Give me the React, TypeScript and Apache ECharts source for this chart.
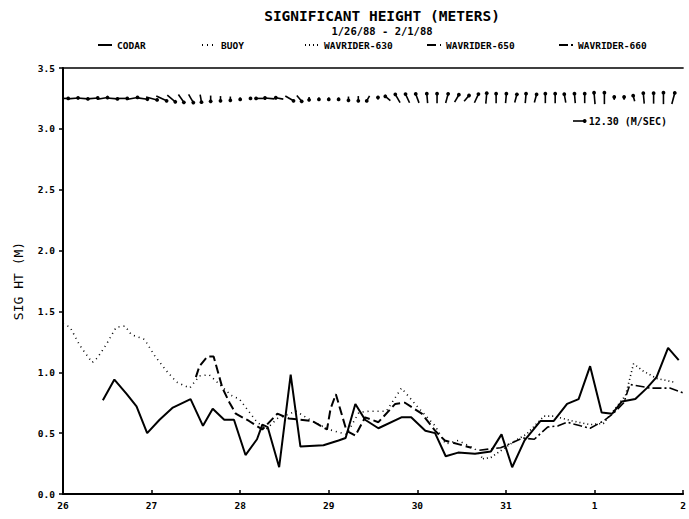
import React, { useEffect, useRef } from "react";
import * as echarts from "echarts";

// ---------- data ----------
const dayLabels = ["26", "27", "28", "29", "30", "31", "1", "2"];
const seriesNames = ["CODAR", "BUOY", "WAVRIDER-630", "WAVRIDER-650", "WAVRIDER-660"];

const codarDays = [0.45, 0.58, 0.72, 0.83, 0.95, 1.09, 1.24, 1.44, 1.58, 1.69, 1.82, 1.93, 2.06, 2.19, 2.25, 2.31, 2.44, 2.57, 2.68, 2.94, 3.11, 3.19, 3.30, 3.41, 3.56, 3.82, 3.93, 4.09, 4.20, 4.32, 4.46, 4.65, 4.83, 4.95, 5.07, 5.21, 5.39, 5.54, 5.69, 5.82, 5.95, 6.08, 6.20, 6.31, 6.46, 6.59, 6.70, 6.83, 6.95];
const codarHs = [0.77, 0.94, 0.82, 0.72, 0.50, 0.61, 0.71, 0.78, 0.56, 0.70, 0.61, 0.61, 0.32, 0.45, 0.57, 0.55, 0.22, 0.98, 0.39, 0.40, 0.44, 0.46, 0.74, 0.61, 0.54, 0.63, 0.63, 0.52, 0.50, 0.31, 0.34, 0.33, 0.35, 0.49, 0.22, 0.44, 0.60, 0.60, 0.74, 0.78, 1.05, 0.67, 0.66, 0.76, 0.78, 0.87, 0.96, 1.20, 1.10];

const buoyDays = [0.0, 0.08, 0.19, 0.33, 0.39, 0.49, 0.60, 0.70, 0.77, 0.92, 1.04, 1.17, 1.28, 1.43, 1.54, 1.65, 1.90, 1.99, 2.18, 2.29, 2.42, 2.63, 2.81, 3.00, 3.20, 3.34, 3.45, 3.65, 3.82, 4.01, 4.20, 4.32, 4.46, 4.65, 4.74];
const buoyHs = [1.40, 1.37, 1.22, 1.08, 1.12, 1.23, 1.37, 1.38, 1.31, 1.27, 1.13, 1.01, 0.92, 0.87, 0.97, 0.98, 0.81, 0.78, 0.60, 0.53, 0.62, 0.68, 0.60, 0.53, 0.49, 0.67, 0.68, 0.68, 0.87, 0.71, 0.56, 0.41, 0.44, 0.37, 0.29];

const wr630Days = [4.74, 4.83, 5.11, 5.23, 5.43, 5.54, 5.75, 5.95, 6.10, 6.35, 6.44, 6.55, 6.70, 6.89];
const wr630Hs = [0.29, 0.30, 0.44, 0.49, 0.64, 0.64, 0.60, 0.57, 0.58, 0.81, 1.07, 1.01, 0.95, 0.92];

const wr650Days = [1.50, 1.54, 1.63, 1.70, 1.75, 1.80, 1.88, 1.95, 2.10, 2.25, 2.42, 2.55, 2.81, 2.98, 3.02, 3.08, 3.20, 3.30, 3.41, 3.56, 3.75, 3.86, 4.05, 4.20, 4.31, 4.46, 4.61];
const wr650Hs = [0.96, 1.05, 1.13, 1.13, 1.00, 0.87, 0.75, 0.66, 0.60, 0.53, 0.66, 0.62, 0.60, 0.53, 0.70, 0.82, 0.52, 0.48, 0.63, 0.59, 0.74, 0.75, 0.66, 0.52, 0.44, 0.41, 0.38];

const wr660Days = [4.70, 4.94, 5.19, 5.32, 5.47, 5.59, 5.69, 5.84, 5.95, 6.10, 6.21, 6.33, 6.40, 6.63, 6.85, 7.00];
const wr660Hs = [0.36, 0.38, 0.46, 0.45, 0.55, 0.56, 0.59, 0.56, 0.54, 0.60, 0.66, 0.75, 0.90, 0.87, 0.87, 0.83];

// wind vectors (direction toward, degrees counter-clockwise from east; speed m/s)
const windStartDay = 0;
const windStepDay = 1 / 9;
const windBaseline = 3.25;
const windDir = [0, 5, -5, 5, 10, -5, 0, 10, -8, -15, -25, -40, -55, -60, -80, -90, -90, -90, -90, 0, 180, 175, 170, -30, -50, -90, -90, -90, -90, -90, -90, -120, 90, 140, 120, 115, 110, 95, 90, 75, 60, 50, 65, 85, 90, 85, 75, 85, 75, 90, 90, 100, 95, 90, 95, 90, 90, 90, 105, 95, 90, 90, 75];
const windSpeed = [11, 11, 11, 11, 11, 11, 11, 12, 12, 12, 12, 11, 10, 10, 8, 6, 5, 4, 2, 1, 8, 10, 8, 10, 8, 3, 2, 2, 2, 4, 5, 6, 2, 7, 10, 10, 10, 10, 10, 10, 9, 8, 10, 11, 10, 10, 9, 10, 9, 10, 10, 9, 10, 10, 12, 12, 3, 3, 6, 11, 11, 12, 12];
const refSpeed = 12.3;
const refLabel = "12.30 (M/SEC)";

const PX_PER_MS = 0.95;
const MONO = "'DejaVu Sans Mono', monospace";

const zip = (xs: number[], ys: number[]) => xs.map((x, i) => [x, ys[i]]);

export default function App() {
  const ref = useRef<HTMLDivElement>(null);
  useEffect(() => {
    if (!ref.current) return;
    const chart = echarts.init(ref.current, undefined, { renderer: "svg" });

    const lineSeries = (name: string, data: number[][], type: any, width: number) => ({
      name,
      type: "line",
      data,
      symbol: "none",
      showSymbol: false,
      xAxisIndex: 0,
      yAxisIndex: 0,
      lineStyle: { color: "#000", width, type },
      itemStyle: { color: "#000" },
      z: 3,
    });

    const legendLefts = [97, 201, 304, 426, 558];
    const legends = seriesNames.map((n, i) => ({
      data: [n],
      left: legendLefts[i],
      top: 40,
      padding: 0,
      itemWidth: 14,
      itemHeight: 12,
      itemGap: 4,
      itemStyle: { opacity: 0 },
      textStyle: { fontFamily: MONO, fontWeight: "bold", fontSize: 9.5, color: "#000" },
    }));

    const refLen = refSpeed * PX_PER_MS;
    const refX = 573;
    const refY = 121;

    chart.setOption({
      animation: false,
      backgroundColor: "#fff",
      title: [
        {
          text: "SIGNIFICANT HEIGHT (METERS)",
          left: 377,
          top: 3,
          textAlign: "center",
          textStyle: { fontFamily: MONO, fontWeight: "bold", fontSize: 14.5, color: "#000" },
        },
        {
          text: "1/26/88 - 2/1/88",
          left: 377,
          top: 20,
          textAlign: "center",
          textStyle: { fontFamily: MONO, fontWeight: "bold", fontSize: 10.5, color: "#000" },
        },
      ],
      legend: legends,
      grid: { left: 63, right: 2, top: 68, bottom: 25, containLabel: false },
      xAxis: [
        {
          type: "value",
          min: 0,
          max: 7,
          interval: 1,
          axisLine: { show: true, lineStyle: { color: "#000", width: 2 } },
          axisTick: { show: true, inside: true, length: 4, lineStyle: { color: "#000", width: 1.5 } },
          splitLine: { show: false },
          axisLabel: {
            formatter: (v: number) => dayLabels[Math.round(v)] ?? "",
            fontFamily: MONO,
            fontWeight: "bold",
            fontSize: 9.5,
            color: "#000",
            margin: 6,
          },
        },
        {
          type: "value",
          position: "top",
          min: 0,
          max: 7,
          interval: 1,
          axisLine: { show: true, lineStyle: { color: "#000", width: 1.5 } },
          axisTick: { show: false },
          axisLabel: { show: false },
          splitLine: { show: false },
        },
      ],
      yAxis: {
        type: "value",
        min: 0,
        max: 3.5,
        interval: 0.5,
        name: "SIG HT (M)",
        nameLocation: "middle",
        nameRotate: 90,
        nameGap: 38,
        nameTextStyle: { fontFamily: MONO, fontSize: 13, color: "#000" },
        axisLine: { show: true, lineStyle: { color: "#000", width: 2 } },
        axisTick: { show: true, length: 4, lineStyle: { color: "#000", width: 1.5 } },
        splitLine: { show: false },
        axisLabel: {
          formatter: (v: number) => v.toFixed(1),
          fontFamily: MONO,
          fontWeight: "bold",
          fontSize: 9.5,
          color: "#000",
          margin: 8,
        },
      },
      series: [
        lineSeries("CODAR", zip(codarDays, codarHs), "solid", 2),
        lineSeries("BUOY", zip(buoyDays, buoyHs), [1, 4], 1.6),
        lineSeries("WAVRIDER-630", zip(wr630Days, wr630Hs), [1, 3], 1.6),
        lineSeries("WAVRIDER-650", zip(wr650Days, wr650Hs), [9, 4], 2),
        lineSeries("WAVRIDER-660", zip(wr660Days, wr660Hs), [9, 3, 2, 3], 1.6),
        {
          name: "wind",
          type: "custom",
          coordinateSystem: "cartesian2d",
          clip: true,
          encode: { x: 0, y: 3 },
          data: windSpeed.map((s, i) => [windStartDay + i * windStepDay, s, windDir[i], windBaseline]),
          renderItem: (_params: any, api: any) => {
            const day = api.value(0) as number;
            const spd = api.value(1) as number;
            const dir = api.value(2) as number;
            const c = api.coord([day, windBaseline]);
            const L = spd * PX_PER_MS;
            const rad = (dir * Math.PI) / 180;
            const dx = L * Math.cos(rad);
            const dy = -L * Math.sin(rad);
            const x1 = c[0] - dx / 2;
            const y1 = c[1] - dy / 2;
            const x2 = c[0] + dx / 2;
            const y2 = c[1] + dy / 2;
            return {
              type: "group",
              children: [
                { type: "line", shape: { x1, y1, x2, y2 }, style: { stroke: "#000", lineWidth: 1.6 } },
                { type: "circle", shape: { cx: x2, cy: y2, r: 1.9 }, style: { fill: "#000" } },
              ],
            };
          },
          z: 4,
        },
      ],
      graphic: [
        {
          type: "line",
          shape: { x1: refX, y1: refY, x2: refX + refLen, y2: refY },
          style: { stroke: "#000", lineWidth: 1.6 },
        },
        {
          type: "circle",
          shape: { cx: refX + refLen, cy: refY, r: 1.9 },
          style: { fill: "#000" },
        },
        {
          type: "text",
          x: refX + refLen + 4,
          y: refY,
          style: {
            text: refLabel,
            fontFamily: MONO,
            fontWeight: "bold",
            fontSize: 10,
            fill: "#000",
            verticalAlign: "middle",
          },
        },
      ],
    });
    return () => chart.dispose();
  }, []);

  return (
    <div
      ref={ref}
      style={{ position: "fixed", left: 0, top: 0, width: 689, height: 519, background: "#fff" }}
    />
  );
}
